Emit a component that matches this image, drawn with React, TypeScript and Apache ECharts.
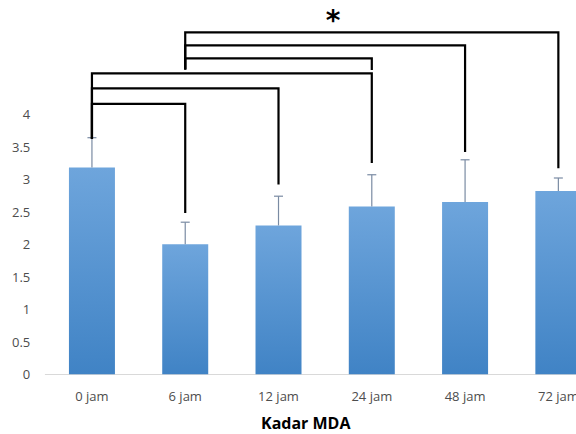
import React, { useEffect, useRef } from "react";
import * as echarts from "echarts";

const categories = ["0 jam", "6 jam", "12 jam", "24 jam", "48 jam", "72 jam"];
const means = [3.18, 2.0, 2.29, 2.58, 2.65, 2.82];
const errorTops = [3.64, 2.34, 2.74, 3.07, 3.3, 3.02];
// [fromIndex, toIndex, level, fromBottom, toBottom]
const brackets = [
  [0, 1, 4.16, 3.62, 2.48],
  [0, 2, 4.4, 3.62, 2.92],
  [0, 3, 4.63, 3.62, 3.25],
  [1, 3, 4.86, 4.69, 4.68],
  [1, 4, 5.06, 4.69, 3.42],
  [1, 5, 5.26, 4.69, 3.17],
];
// [category position, value]
const asterisk = [[2.584, 5.5]];
const axisTitle = "Kadar MDA";

export default function App() {
  const ref = useRef<HTMLDivElement>(null);
  useEffect(() => {
    if (!ref.current) return;
    const chart = echarts.init(ref.current, null, { renderer: "svg" });
    const font = "'Open Sans', sans-serif";
    chart.setOption({
      animation: false,
      title: {
        text: axisTitle,
        left: 256,
        top: 410,
        textStyle: { fontFamily: font, fontSize: 16, fontWeight: "bold", color: "#000" },
      },
      grid: {
        left: 45.3,
        width: 559.7,
        top: 16.8,
        height: 357.5,
        outerBoundsMode: "none",
        containLabel: false,
      },
      xAxis: {
        type: "category",
        data: categories,
        axisLine: { lineStyle: { color: "#d9d9d9", width: 1 } },
        axisTick: { show: false },
        axisLabel: { color: "#4d4d4d", fontFamily: font, fontSize: 13, margin: 15 },
      },
      yAxis: {
        type: "value",
        min: 0,
        max: 5.5,
        interval: 0.5,
        splitLine: { show: false },
        axisLine: { show: false },
        axisTick: { show: false },
        axisLabel: {
          color: "#4d4d4d",
          fontFamily: font,
          fontSize: 13,
          margin: 15,
          formatter: (v: number) => (v > 4 ? "" : String(v)),
        },
      },
      series: [
        {
          type: "bar",
          data: means,
          barWidth: 46,
          z: 2,
          itemStyle: {
            color: new echarts.graphic.LinearGradient(0, 0, 0, 1, [
              { offset: 0, color: "#6ea5dc" },
              { offset: 1, color: "#4083c5" },
            ]),
          },
        },
        {
          type: "custom",
          z: 3,
          clip: false,
          data: means.map((m, i) => [i, m, errorTops[i]]),
          encode: { x: 0, y: [1, 2] },
          renderItem: (params: any, api: any) => {
            const x = api.value(0);
            const p1 = api.coord([x, api.value(1)]);
            const p2 = api.coord([x, api.value(2)]);
            const st = { stroke: "#7a8ba3", lineWidth: 1.2 };
            return {
              type: "group",
              children: [
                { type: "line", shape: { x1: p1[0], y1: p1[1], x2: p2[0], y2: p2[1] }, style: st },
                { type: "line", shape: { x1: p2[0] - 4.5, y1: p2[1], x2: p2[0] + 4.5, y2: p2[1] }, style: st },
              ],
            };
          },
        },
        {
          type: "custom",
          z: 4,
          clip: false,
          data: brackets,
          encode: { x: [0, 1], y: [2, 3, 4] },
          renderItem: (params: any, api: any) => {
            const f = api.value(0);
            const t = api.value(1);
            const lvl = api.value(2);
            const pts = [
              api.coord([f, api.value(3)]),
              api.coord([f, lvl]),
              api.coord([t, lvl]),
              api.coord([t, api.value(4)]),
            ];
            return {
              type: "polyline",
              shape: { points: pts },
              style: { stroke: "#000", lineWidth: 2.2, fill: null },
            };
          },
        },
        {
          type: "custom",
          z: 5,
          clip: false,
          data: asterisk,
          encode: { x: 0, y: 1 },
          renderItem: (params: any, api: any) => {
            const pos = api.value(0);
            const base = Math.floor(pos);
            const p = api.coord([base, api.value(1)]);
            const w = api.size([1, 0])[0];
            return {
              type: "text",
              x: p[0] + w * (pos - base),
              y: p[1] + 4,
              style: {
                text: "*",
                fontSize: 28,
                fontWeight: "bold",
                fontFamily: "DejaVu Sans",
                fill: "#000",
                align: "center",
                verticalAlign: "middle",
              },
            };
          },
        },
      ],
    });
    return () => chart.dispose();
  }, []);
  return (
    <div
      ref={ref}
      style={{ position: "fixed", left: 0, top: 0, width: 576, height: 434, background: "#fff" }}
    />
  );
}
